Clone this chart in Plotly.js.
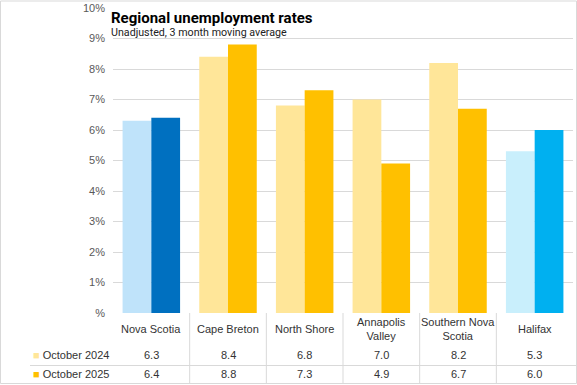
<!DOCTYPE html>
<html>
<head>
<meta charset="utf-8">
<script src="https://cdn.plot.ly/plotly-3.0.1.min.js"></script>
<style>html,body{margin:0;padding:0;background:#fff;}#chart{width:577px;height:385px;}</style>
</head>
<body>
<div id="chart"></div>
<script>
const categories = ["Nova Scotia", "Cape Breton", "North Shore", "Annapolis<br>Valley", "Southern Nova<br>Scotia", "Halifax"];
const series2024Name = "October 2024";
const series2025Name = "October 2025";
const values2024 = [6.3, 8.4, 6.8, 7.0, 8.2, 5.3];
const values2025 = [6.4, 8.8, 7.3, 4.9, 6.7, 6.0];
const tickVals = [0, 1, 2, 3, 4, 5, 6, 7, 8, 9, 10];
const tickText = ["%", "1%", "2%", "3%", "4%", "5%", "6%", "7%", "8%", "9%", "10%"];
const colors2024 = ["#BFE3FA", "#FFE699", "#FFE699", "#FFE699", "#FFE699", "#C9EFFC"];
const colors2025 = ["#0070C0", "#FFC000", "#FFC000", "#FFC000", "#FFC000", "#00B0F0"];

const xIdx = categories.map((c, i) => i);
const W = 577, H = 385, L = 113, R = 4, T = 8, B = 72;
const pw = W - L - R, ph = H - T - B;
const px = x => (x - L) / pw;
const py = y => (T + ph - y) / ph;
const font = "Liberation Sans, Arial, sans-serif";

const traces = [
  {type: "bar", x: xIdx, y: values2024, name: series2024Name, marker: {color: colors2024}, hoverinfo: "y"},
  {type: "bar", x: xIdx, y: values2025, name: series2025Name, marker: {color: colors2025}, hoverinfo: "y"}
];

const annotations = [
  {xref: "paper", yref: "paper", x: px(109), y: py(18), xanchor: "left", yanchor: "middle", showarrow: false,
   text: "<b>Regional unemployment rates</b>", font: {family: "Roboto, sans-serif", size: 15, color: "#000"}},
  {xref: "paper", yref: "paper", x: px(109), y: py(33), xanchor: "left", yanchor: "middle", showarrow: false,
   text: "Unadjusted, 3 month moving average", font: {family: "Roboto, sans-serif", size: 10.7, color: "#222"}},
  {xref: "paper", yref: "paper", x: px(111), y: py(355), xanchor: "right", yanchor: "middle", showarrow: false,
   text: '<span style="color:' + colors2024[1] + '">■</span> ' + series2024Name, font: {family: font, size: 11, color: "#333"}},
  {xref: "paper", yref: "paper", x: px(111), y: py(374), xanchor: "right", yanchor: "middle", showarrow: false,
   text: '<span style="color:' + colors2025[1] + '">■</span> ' + series2025Name, font: {family: font, size: 11, color: "#333"}}
];
categories.forEach((c, i) => {
  annotations.push({xref: "x", yref: "paper", x: i, y: py(329), yanchor: "middle", showarrow: false,
    text: c, font: {family: font, size: 11, color: "#333"}});
  annotations.push({xref: "x", yref: "paper", x: i, y: py(355), yanchor: "middle", showarrow: false,
    text: values2024[i].toFixed(1), font: {family: font, size: 11, color: "#333"}});
  annotations.push({xref: "x", yref: "paper", x: i, y: py(374), yanchor: "middle", showarrow: false,
    text: values2025[i].toFixed(1), font: {family: font, size: 11, color: "#333"}});
});

const lineC = "#D9D9D9";
const shapes = [
  {type: "rect", xref: "paper", yref: "paper", x0: px(0.5), x1: px(576.5), y0: py(1), y1: py(383.5), line: {color: lineC, width: 1}},
  {type: "line", xref: "paper", yref: "paper", x0: px(30), x1: px(576), y0: py(365.5), y1: py(365.5), line: {color: lineC, width: 1}}
];
for (let i = 0; i < categories.length - 1; i++) {
  shapes.push({type: "line", xref: "x", yref: "paper", x0: i + 0.5, x1: i + 0.5, y0: 0, y1: py(383.5), line: {color: lineC, width: 1}});
}

const layout = {
  width: W, height: H,
  margin: {l: L, r: R, t: T, b: B, pad: 0},
  paper_bgcolor: "#fff", plot_bgcolor: "#fff",
  showlegend: false,
  barmode: "group", bargap: 0.25, bargroupgap: 0,
  xaxis: {range: [-0.5, 5.5], showticklabels: false, showgrid: false, zeroline: false, ticks: "", fixedrange: true},
  yaxis: {range: [0, 10], tickvals: tickVals, ticktext: tickText, showgrid: true, gridcolor: lineC, gridwidth: 1,
          zeroline: false, ticks: "", ticklen: 0, ticklabelstandoff: 7,
          tickfont: {family: font, size: 11, color: "#595959"}, fixedrange: true},
  annotations: annotations,
  shapes: shapes
};

Plotly.newPlot("chart", traces, layout, {displayModeBar: false, staticPlot: true});
</script>
</body>
</html>
